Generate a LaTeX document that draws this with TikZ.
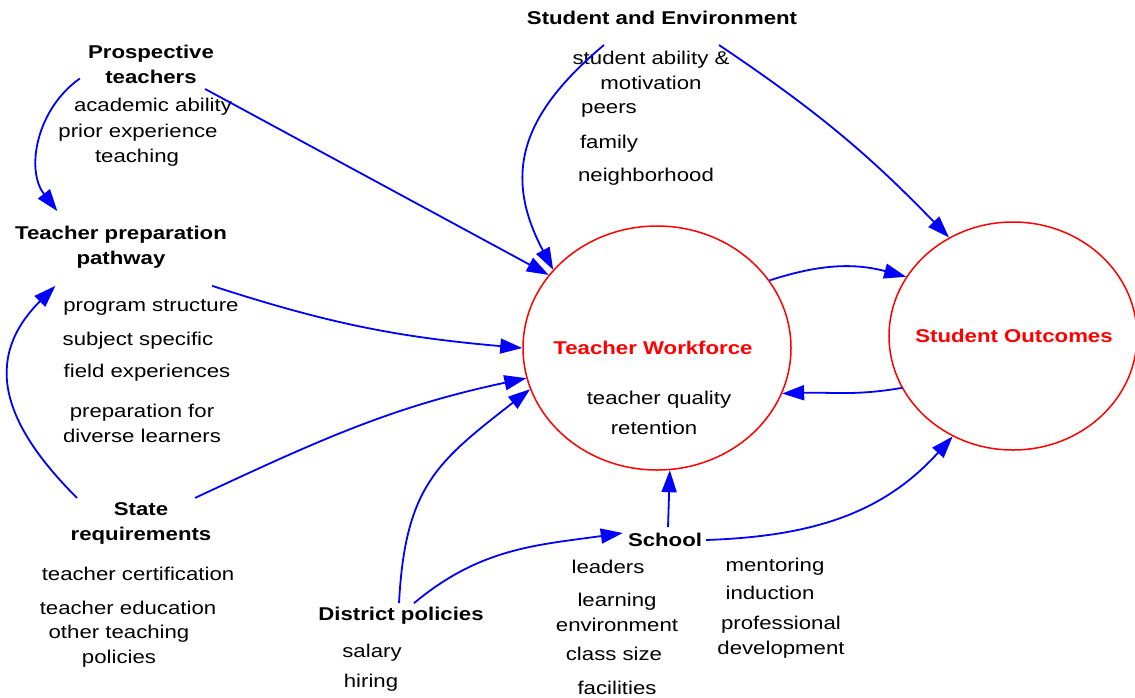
\documentclass[tikz,border=0pt]{standalone}
\usepackage{fontspec}
\setmainfont[FakeStretch=1.2]{Liberation Sans}
\usepackage{tikz}
\usetikzlibrary{arrows.meta,shapes.geometric,positioning}

\tikzset{
    head/.style={font=\fontsize{18.5}{25}\selectfont\bfseries, align=center, inner sep=0pt},
    item/.style={font=\fontsize{18.5}{25}\selectfont, align=center, inner sep=0pt},
    title/.style={font=\fontsize{18.5}{25}\selectfont\bfseries, text=red, inner sep=0pt},
    pool/.style={draw=red, line width=1.5pt, ellipse, inner sep=0pt},
    link/.style={draw=blue, line width=1.8pt, -{Triangle[length=22pt,width=15pt]}}
}

\begin{document}
\begin{tikzpicture}[x=1pt, y=1pt]
            \useasboundingbox (0,0) rectangle (1135,-697);

            \node (work) [pool, minimum width=268pt, minimum height=244pt] at (657,-348) {};
            \node (outc) [pool, minimum width=248pt, minimum height=228pt] at (1013,-336) {};
            \node (worktitle) [title] at (653,-348) {Teacher Workforce};
            \node (quality) [item] at (659,-400) {teacher quality};
            \node (retent) [item] at (654,-428) {retention};
            \node (outctitle) [title] at (1014,-336) {Student Outcomes};

            \node (env) [head] at (662,-18) {Student and Environment};
            \node (ability) [item] at (651,-70) {student ability \&\\motivation};
            \node (peers) [item] at (609,-110) {peers};
            \node (family) [item] at (609,-144) {family};
            \node (hood) [item] at (646,-177) {neighborhood};

            \node (prosp) [head] at (151,-64.5) {Prospective\\teachers};
            \node (acad) [item] at (153,-107) {academic ability};
            \node (prior) [item] at (138,-133) {prior experience};
            \node (teach) [item] at (137,-158) {teaching};

            \node (prep) [head] at (121,-247.5) {Teacher preparation\\pathway};
            \node (struct) [item] at (151,-307) {program structure};
            \node (subj) [item] at (138,-341) {subject specific};
            \node (field) [item] at (147,-373) {field experiences};
            \node (divers) [item] at (142,-423.5) {preparation for\\diverse learners};

            \node (state) [head] at (141,-523) {State\\requirements};
            \node (cert) [item] at (138,-574) {teacher certification};
            \node (educ) [item] at (128,-608) {teacher education};
            \node (other) [item] at (119,-646.5) {other teaching\\policies};

            \node (distr) [head] at (401,-616) {District policies};
            \node (salary) [item] at (372,-653) {salary};
            \node (hiring) [item] at (371,-683) {hiring};

            \node (school) [head] at (665,-540) {School};
            \node (leaders) [item] at (608,-567) {leaders};
            \node (learn) [item] at (617,-612) {learning\\environment};
            \node (class) [item] at (614,-654) {class size};
            \node (facil) [item] at (617,-688) {facilities};
            \node (mentor) [item] at (775,-567) {mentoring};
            \node (induct) [item] at (770,-593) {induction};
            \node (prof) [item] at (781,-637) {professional\\development};

            \draw[link] ([shift={(-8,-14)}]prosp.west) to[out=215, in=128] ([shift={(42.5,15)}]prep.north west);
            \draw[link] ([shift={(-9,-5)}]prosp.south east) -- (work.146);
            \draw[link] ([shift={(-58,-20)}]env.south) to[out=220, in=118, looseness=1.2] (work.143);
            \draw[link] ([shift={(57,-20)}]env.south) to[bend left=6] (outc.123);
            \draw[link] ([shift={(-15,-17)}]prep.south east) to[out=-18, in=175] (work.180);
            \draw[link] ([shift={(6.5,4)}]state.north west) to[out=135, in=225, looseness=1.25] ([shift={(40.5,-17)}]prep.south west);
            \draw[link] ([shift={(-16.5,4)}]state.north east) to[out=25, in=192] (work.193);
            \draw[link] ([shift={(-2,4)}]distr.north) to[out=87, in=218, looseness=1.2] (work.198);
            \draw[link] ([shift={(13,4)}]distr.north) to[out=40, in=188] ([shift={(-5,7)}]school.west);
            \draw[link] ([shift={(3,6)}]school.north) -- (work.276);
            \draw[link] ([shift={(4,0)}]school.east) to[out=2, in=228] (outc.239);
            \draw[link] (work.31) to[out=18, in=165] (outc.151);
            \draw[link] (outc.205) to[out=190, in=2] (work.340);
\end{tikzpicture}
\end{document}
